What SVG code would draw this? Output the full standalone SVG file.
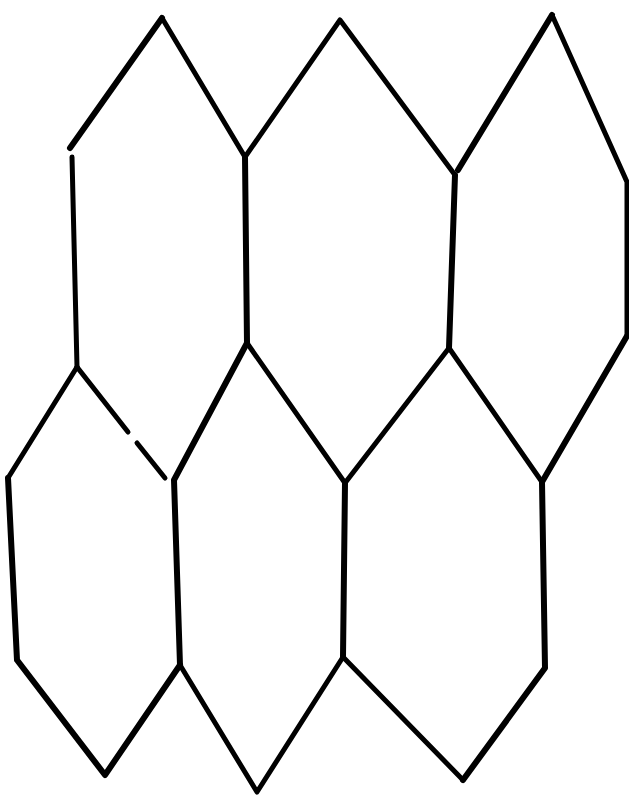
<svg xmlns="http://www.w3.org/2000/svg" width="629" height="796" viewBox="0 0 629 796">
<style>
.l{fill:none;stroke:#000;stroke-width:5;stroke-linecap:round;stroke-linejoin:round}
.t{stroke-width:6}
</style>
<rect width="629" height="796" fill="#fff"/>
<g id="top-row">
<path class="l t" d="M70,148 L162,18"/>
<path class="l" d="M162,18 L245,157 L340,20 L455,175"/>
<path class="l" d="M72,157 L77,367"/>
<path class="l t" d="M245,157 L247,343"/>
<path class="l t" d="M458,170 L552,15"/>
<path class="l" d="M552,15 L627,182 L627,336"/>
<path class="l t" d="M455,175 L449,348"/>
</g>
<g id="bottom-row">
<path class="l" d="M77,367 L128,432"/>
<path class="l" d="M137,443 L165,478"/>
<path class="l" d="M77,367 L8,478"/>
<path class="l t" d="M8,478 L17,660 L105,775 L180,665"/>
<path class="l t" d="M247,343 L174,480 L180,665"/>
<path class="l" d="M180,665 L257,792 L343,657"/>
<path class="l" d="M247,343 L345,483 L449,348 L542,482"/>
<path class="l t" d="M345,483 L343,657"/>
<path class="l" d="M343,657 L463,780"/>
<path class="l t" d="M463,780 L545,668 L542,482 L627,336"/>
</g>
</svg>
